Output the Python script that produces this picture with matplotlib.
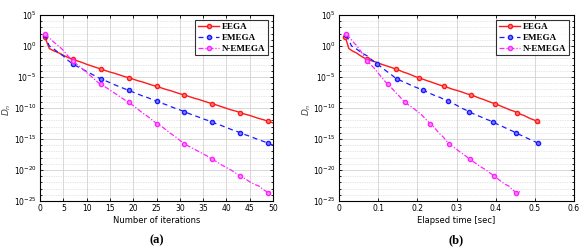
import matplotlib
matplotlib.use("Agg")
import matplotlib.pyplot as plt
import numpy as np
from matplotlib.ticker import FixedLocator, FuncFormatter

iters = list(range(1, 51))

# log10(D_n) per iteration
eega_log = [1.5, -0.4, -0.8, -1.1, -1.5, -1.85, -2.15, -2.4, -2.65, -2.95,
            -3.2, -3.45, -3.7, -3.95, -4.2, -4.4, -4.65, -4.9, -5.1, -5.35,
            -5.6, -5.8, -6.05, -6.3, -6.5, -6.75, -7.0, -7.2, -7.45, -7.7,
            -7.9, -8.15, -8.4, -8.6, -8.85, -9.1, -9.3, -9.55, -9.8, -10.05,
            -10.3, -10.5, -10.75, -11.0, -11.2, -11.45, -11.7, -11.9, -12.15, -12.4]
emega_log = [1.8, 0.0, -0.5, -1.1, -1.6, -2.3, -2.9, -3.3, -3.7, -4.1,
             -4.5, -4.9, -5.3, -5.6, -5.9, -6.25, -6.55, -6.85, -7.15, -7.45,
             -7.75, -8.05, -8.3, -8.6, -8.9, -9.2, -9.45, -9.75, -10.05, -10.3,
             -10.6, -10.9, -11.2, -11.45, -11.75, -12.0, -12.3, -12.6, -12.85, -13.15,
             -13.45, -13.7, -14.0, -14.3, -14.55, -14.85, -15.15, -15.4, -15.7, -16.0]
nemega_log = [1.9, 1.3, 0.6, 0.0, -0.7, -1.6, -2.4, -3.0, -3.6, -4.3,
              -4.9, -5.6, -6.2, -6.6, -7.1, -7.6, -8.1, -8.6, -9.1, -9.6,
              -10.2, -10.8, -11.3, -11.9, -12.5, -12.9, -13.5, -14.1, -14.6, -15.2,
              -15.8, -16.2, -16.6, -17.0, -17.4, -17.8, -18.3, -18.7, -19.2, -19.6,
              -20.0, -20.5, -21.0, -21.4, -21.9, -22.3, -22.6, -23.2, -23.65, -23.5]

# elapsed time [sec] per iteration
eega_t = [0.016, 0.025, 0.034, 0.044, 0.053, 0.062, 0.072, 0.084, 0.097, 0.109,
          0.121, 0.133, 0.145, 0.155, 0.164, 0.174, 0.184, 0.193, 0.203, 0.214,
          0.225, 0.235, 0.246, 0.257, 0.268, 0.280, 0.291, 0.303, 0.315, 0.326,
          0.338, 0.348, 0.358, 0.368, 0.378, 0.388, 0.398, 0.408, 0.417, 0.427,
          0.436, 0.446, 0.455, 0.463, 0.472, 0.480, 0.488, 0.497, 0.505, 0.512]
emega_t = [0.019, 0.032, 0.045, 0.058, 0.072, 0.085, 0.098, 0.106, 0.114, 0.122,
           0.131, 0.139, 0.147, 0.158, 0.170, 0.181, 0.192, 0.204, 0.215, 0.226,
           0.236, 0.247, 0.258, 0.268, 0.279, 0.288, 0.297, 0.306, 0.314, 0.323,
           0.332, 0.342, 0.353, 0.363, 0.373, 0.384, 0.394, 0.404, 0.413, 0.423,
           0.433, 0.442, 0.452, 0.461, 0.471, 0.480, 0.490, 0.499, 0.509, 0.515]
nemega_t = [0.019, 0.028, 0.037, 0.046, 0.054, 0.063, 0.072, 0.081, 0.090, 0.099,
            0.107, 0.116, 0.125, 0.132, 0.139, 0.146, 0.154, 0.161, 0.168, 0.180,
            0.193, 0.205, 0.214, 0.223, 0.232, 0.240, 0.248, 0.256, 0.265, 0.273,
            0.281, 0.290, 0.299, 0.307, 0.316, 0.325, 0.334, 0.344, 0.355, 0.365,
            0.375, 0.386, 0.396, 0.405, 0.415, 0.424, 0.434, 0.443, 0.453, 0.462]

series_names = ["EEGA", "EMEGA", "N-EMEGA"]
y_tick_exps = [5, 0, -5, -10, -15, -20, -25]

colors = ["#ff1a1a", "#1a1aff", "#ff22ff"]
face_colors = ["#ff8080", "#8080ff", "#ff90ff"]
styles = ["-", (0, (4, 3)), (0, (4, 1.5, 1, 1.5))]

fig = plt.figure(figsize=(5.87, 2.5), dpi=100)
ax1 = fig.add_axes([40/587, 49/250, 233/587, 186/250])
ax2 = fig.add_axes([339/587, 49/250, 235/587, 186/250])

ys = [eega_log, emega_log, nemega_log]
ts = [eega_t, emega_t, nemega_t]

def style_axes(ax, label_x):
    ax.set_yscale("log")
    ax.set_ylim(1e-25, 1e5)
    ax.yaxis.set_major_locator(FixedLocator([10.0**e for e in y_tick_exps]))
    ax.yaxis.set_minor_locator(FixedLocator([10.0**e for e in range(-25, 6)]))
    ax.yaxis.set_major_formatter(FuncFormatter(lambda v, p: r"$10^{%d}$" % int(round(np.log10(v)))))
    ax.yaxis.set_minor_formatter(FuncFormatter(lambda v, p: ""))
    ax.grid(True, which="major", color="#d8d8d8", lw=0.7, ls="-")
    ax.grid(True, which="minor", axis="y", color="#cfcfcf", lw=0.5, ls=(0, (1, 1.5)))
    ax.tick_params(which="both", direction="in", top=True, right=True, labelsize=5.5,
                   length=2.5, width=0.6, pad=2.5)
    ax.tick_params(which="minor", length=1.5)
    for s in ax.spines.values():
        s.set_linewidth(0.8)
    ax.set_axisbelow(True)
    ax.set_ylabel(r"$D_n$", family="Liberation Serif", fontsize=6.5, color="#444444")
    ax.yaxis.set_label_coords(label_x, 0.49)

for ax, xs_list, lx in [(ax1, [iters] * 3, -0.115), (ax2, ts, -0.11)]:
    for name, x, y, c, fc, ls in zip(series_names, xs_list, ys, colors, face_colors, styles):
        ax.plot(x, 10.0 ** np.array(y), color=c, ls=ls, lw=1.0 if ls == "-" else 0.9,
                marker="o", markevery=6, ms=3.0, mfc=fc, mec=c, mew=1.0, label=name)
    style_axes(ax, lx)
    leg = ax.legend(loc="upper right", prop={"family": "Liberation Serif", "size": 6.5,
                                             "weight": "bold"},
                    frameon=True, fancybox=False, edgecolor="black", handlelength=2.4,
                    borderpad=0.3, labelspacing=0.3, handletextpad=0.3,
                    bbox_to_anchor=(0.98, 0.975), borderaxespad=0.0)
    leg.get_frame().set_linewidth(0.8)

ax1.set_xlim(0, 50)
ax1.set_xticks(range(0, 51, 5))
ax1.set_xlabel("Number of iterations", fontsize=6, labelpad=2)
ax2.set_xlim(0, 0.6)
ax2.set_xticks([0, 0.1, 0.2, 0.3, 0.4, 0.5, 0.6])
ax2.set_xticklabels(["0", "0.1", "0.2", "0.3", "0.4", "0.5", "0.6"])
ax2.set_xlabel("Elapsed time [sec]", fontsize=6, labelpad=2)

fig.text((40 + 273) / 2 / 587, 1 - 240 / 250, "(a)", ha="center", va="center",
         family="Liberation Serif", weight="bold", fontsize=9)
fig.text((339 + 574) / 2 / 587, 1 - 240 / 250, "(b)", ha="center", va="center",
         family="Liberation Serif", weight="bold", fontsize=9)

fig.savefig("out.png", dpi=100)
